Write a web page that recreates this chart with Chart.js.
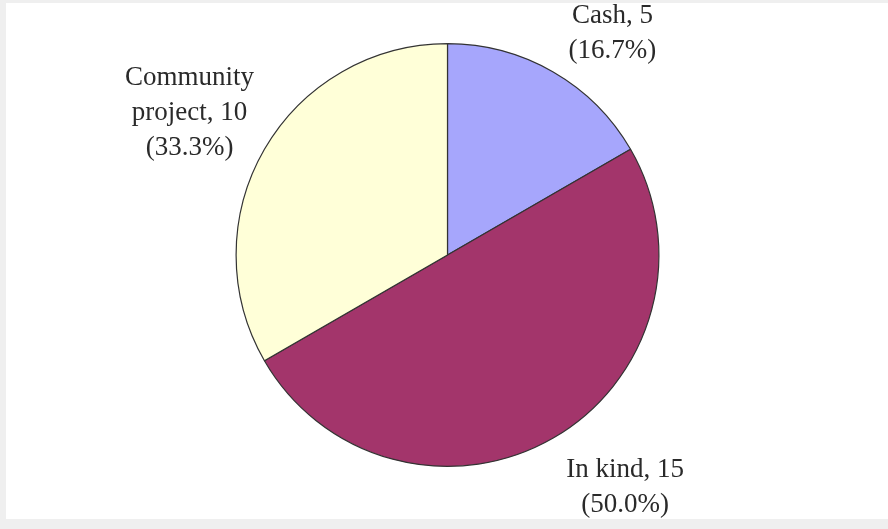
<!DOCTYPE html>
<html>
<head>
<meta charset="utf-8">
<script src="https://cdn.jsdelivr.net/npm/chart.js@4.4.1/dist/chart.umd.min.js"></script>
<style>
  html, body { margin: 0; padding: 0; background: #efefef; overflow: hidden; }
  #frame { position: absolute; left: 6px; top: 3px; width: 882px; height: 516px; background: #fff; }
  #pie { position: absolute; left: 0; top: 0; }
</style>
</head>
<body>
<div id="frame"></div>
<canvas id="pie" width="888" height="529"></canvas>
<script>
const categories = ['Cash', 'In kind', 'Community project'];
const counts = [5, 15, 10];
const sliceColors = ['#a6a6fc', '#a3356b', '#ffffd8'];

// where each label block sits, as multiples of the radius from the pie centre
const labelPlacement = [
  { fx: 0.78, fy: -1.05, lines: (name, v, pct) => [`${name}, ${v}`, `(${pct}%)`] },
  { fx: 0.84, fy: 1.1, lines: (name, v, pct) => [`${name}, ${v}`, `(${pct}%)`] },
  { fx: -1.22, fy: -0.67, lines: (name, v, pct) => ['Community', `project, ${v}`, `(${pct}%)`] },
];

const sliceLabels = {
  id: 'sliceLabels',
  afterDatasetsDraw(chart) {
    const { ctx } = chart;
    const meta = chart.getDatasetMeta(0);
    const total = counts.reduce((a, b) => a + b, 0);
    const lineHeight = 35;
    ctx.save();
    ctx.font = '27px "Liberation Serif", "Times New Roman", serif';
    ctx.fillStyle = '#2a2a2a';
    ctx.textAlign = 'center';
    ctx.textBaseline = 'middle';
    meta.data.forEach((arc, i) => {
      const r = arc.outerRadius;
      const place = labelPlacement[i];
      const pct = (counts[i] / total * 100).toFixed(1);
      const lines = place.lines(categories[i], counts[i], pct);
      const cx = arc.x + place.fx * r;
      const cy = arc.y + place.fy * r;
      const top = cy - (lines.length - 1) * lineHeight / 2;
      lines.forEach((t, k) => ctx.fillText(t, cx, top + k * lineHeight));
    });
    ctx.restore();
  },
};

new Chart(document.getElementById('pie'), {
  type: 'pie',
  data: {
    labels: categories,
    datasets: [{
      data: counts,
      backgroundColor: sliceColors,
      borderColor: '#333333',
      borderWidth: 1.2,
    }],
  },
  options: {
    responsive: false,
    animation: false,
    devicePixelRatio: 1,
    layout: { padding: { left: 235, right: 228, top: 43, bottom: 62 } },
    plugins: { legend: { display: false }, tooltip: { enabled: false } },
  },
  plugins: [sliceLabels],
});
</script>
</body>
</html>
